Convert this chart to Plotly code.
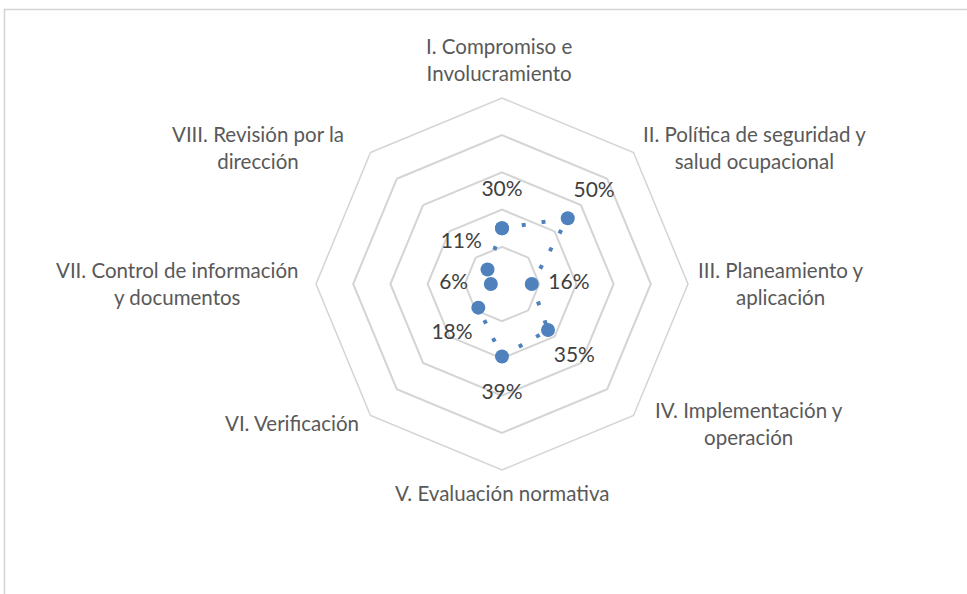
import plotly.graph_objects as go

# ---- data ----
categories = [
    "I. Compromiso e<br>Involucramiento",
    "II. Política de seguridad y<br>salud ocupacional",
    "III. Planeamiento y<br>aplicación",
    "IV. Implementación y<br>operación",
    "V. Evaluación normativa",
    "VI. Verificación",
    "VII. Control de información<br>y documentos",
    "VIII. Revisión por la<br>dirección",
]
values = [0.30, 0.50, 0.16, 0.35, 0.39, 0.18, 0.06, 0.11]
value_labels = ["30%", "50%", "16%", "35%", "39%", "18%", "6%", "11%"]

# ---- layout constants ----
W, H = 967, 594
CX, CY, R = 502, 284, 186
BLUE = "#4F81BD"
GRID = "#D4D4D4"
FONT = "Lato"
LABEL_OFFSET = 0.2

# category label anchor points (pixels, block centres)
label_pos = [(499, 60), (754, 147), (781, 283), (749, 423),
             (502, 493), (292, 423), (177, 283), (258, 147)]


def px(x):
    return x / W


def py(y):
    return 1 - y / H


theta_names = [c.replace("<br>", " ") for c in categories]

fig = go.Figure()
fig.add_trace(go.Scatterpolar(
    r=values + values[:1],
    theta=theta_names + theta_names[:1],
    mode="lines+markers",
    line=dict(color=BLUE, width=4, dash="4px,16px"),
    marker=dict(color=BLUE, size=14),
    hoverinfo="skip",
    showlegend=False,
))
fig.add_trace(go.Scatterpolar(
    r=[v + LABEL_OFFSET for v in values],
    theta=theta_names,
    mode="text",
    text=value_labels,
    textposition="middle center",
    textfont=dict(family=FONT, size=21, color="#404040"),
    hoverinfo="skip",
    showlegend=False,
))

annotations = []
for name, (x, y) in zip(categories, label_pos):
    annotations.append(dict(
        text=name, x=px(x), y=py(y), xref="paper", yref="paper",
        xanchor="center", yanchor="middle", align="center",
        showarrow=False, font=dict(family=FONT, size=20.5, color="#595959"),
    ))

fig.update_layout(
    width=W, height=H,
    margin=dict(l=0, r=0, t=0, b=0),
    paper_bgcolor="white",
    plot_bgcolor="white",
    showlegend=False,
    font=dict(family=FONT, color="#595959"),
    polar=dict(
        domain=dict(x=[px(CX - R), px(CX + R)], y=[py(CY + R), py(CY - R)]),
        bgcolor="white",
        gridshape="linear",
        radialaxis=dict(
            range=[0, 1], tickvals=[0.2, 0.4, 0.6, 0.8],
            showticklabels=False, ticks="", showline=False,
            gridcolor=GRID, gridwidth=1.5,
        ),
        angularaxis=dict(
            rotation=90, direction="clockwise",
            showgrid=False, showticklabels=False, ticks="",
            showline=True, linecolor=GRID, linewidth=1.5,
        ),
    ),
    annotations=annotations,
    shapes=[dict(
        type="rect", xref="paper", yref="paper",
        x0=px(4.5), x1=1.2, y0=-0.2, y1=py(9.5),
        line=dict(color=GRID, width=1.5), fillcolor="rgba(0,0,0,0)",
    )],
)

fig.write_html(
    "out.html",
    config={"displayModeBar": False},
    post_script="document.body.style.margin='0';document.body.style.padding='0';",
)
